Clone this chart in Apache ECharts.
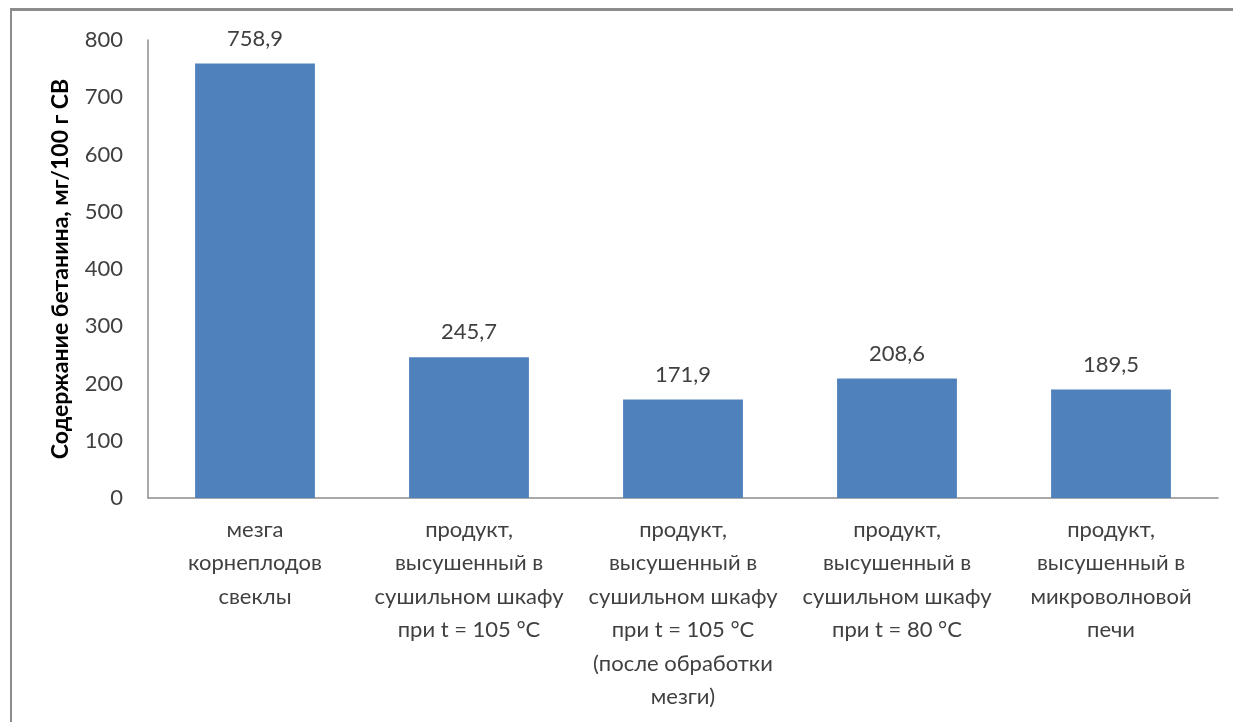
<!DOCTYPE html>
<html>
<head>
<meta charset="utf-8">
<script src="https://cdn.jsdelivr.net/npm/echarts@6/dist/echarts.min.js"></script>
<style>
    html, body { margin: 0; padding: 0; background: #fff; }
    #frame { position: absolute; left: 10px; top: 8px; width: 1240px; height: 730px;
             border-top: 3px solid #8c8c8c; border-left: 2px solid #8c8c8c; }
    #chart { position: absolute; left: 0; top: 0; width: 1233px; height: 722px; }
</style>
</head>
<body>
<div id="frame"></div>
<div id="chart"></div>
<script>
    // категории (подписи оси X)
    var categories = [
        'мезга\nкорнеплодов\nсвеклы',
        'продукт,\nвысушенный в\nсушильном шкафу\nпри t = 105 °C',
        'продукт,\nвысушенный в\nсушильном шкафу\nпри t = 105 °C\n(после обработки\nмезги)',
        'продукт,\nвысушенный в\nсушильном шкафу\nпри t = 80 °C',
        'продукт,\nвысушенный в\nмикроволновой\nпечи'
    ];
    // содержание бетанина, мг/100 г СВ
    var values = [758.9, 245.7, 171.9, 208.6, 189.5];
    var yTicks = [0, 100, 200, 300, 400, 500, 600, 700, 800];

    var font = 'Lato, sans-serif';
    var myChart = echarts.init(document.getElementById('chart'));
    var option = {
        animation: false,
        grid: { left: 148, right: 15, top: 40, bottom: 224 },
        xAxis: {
            type: 'category',
            data: categories,
            axisLine: { lineStyle: { color: '#8c8c8c', width: 1.5 } },
            axisTick: { show: false },
            axisLabel: {
                interval: 0,
                margin: 15,
                color: '#404040',
                fontSize: 22,
                lineHeight: 33.5,
                fontFamily: font
            }
        },
        yAxis: {
            type: 'value',
            min: yTicks[0],
            max: yTicks[yTicks.length - 1],
            interval: 100,
            name: 'Содержание бетанина, мг/100 г СВ',
            nameLocation: 'middle',
            nameGap: 76,
            nameTextStyle: { color: '#000', fontSize: 23, fontWeight: 'bold', fontFamily: font },
            axisLine: { show: true, lineStyle: { color: '#8c8c8c', width: 1.5 } },
            axisTick: { show: false },
            splitLine: { show: false },
            axisLabel: { margin: 25, color: '#404040', fontSize: 22, fontFamily: font }
        },
        series: [{
            type: 'bar',
            data: values,
            barWidth: '56%',
            itemStyle: { color: '#4F81BD' },
            label: {
                show: true,
                position: 'top',
                distance: 14,
                color: '#404040',
                fontSize: 22,
                fontFamily: font,
                formatter: function (p) { return p.value.toFixed(1).replace('.', ','); }
            }
        }]
    };
    myChart.setOption(option, true);
</script>
</body>
</html>
